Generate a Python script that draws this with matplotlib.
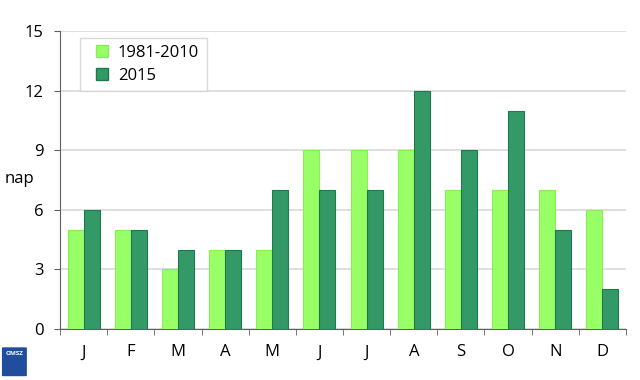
import numpy as np
import matplotlib.pyplot as plt
from matplotlib.lines import Line2D
from matplotlib.patches import FancyBboxPatch

plt.rcParams['font.family'] = ['Open Sans', 'DejaVu Sans']

months = ['J', 'F', 'M', 'A', 'M', 'J', 'J', 'A', 'S', 'O', 'N', 'D']
normal = [5, 5, 3, 4, 4, 9, 9, 9, 7, 7, 7, 6]      # 1981-2010
year2015 = [6, 5, 4, 4, 7, 7, 7, 12, 9, 11, 5, 2]

fig = plt.figure(figsize=(6.4, 3.8), dpi=100)
ax = fig.add_axes([0.094, 0.134, 0.884, 0.784])

x = np.arange(len(months))
w = 0.34
ax.bar(x - w/2, normal, w, color='#99ff66', edgecolor='#88ee55', linewidth=0.8, zorder=3)
ax.bar(x + w/2, year2015, w, color='#339966', edgecolor='#1e7a4a', linewidth=0.8, zorder=3)

ax.set_xlim(-0.5, len(months) - 0.5)
ax.set_ylim(0, 15)
ax.set_yticks(range(0, 16, 3))
ax.yaxis.grid(True, color='#d9d9d9', linewidth=1.2, zorder=0)
ax.set_xticks(x)
ax.set_xticklabels(months)
ax.set_xticks(np.arange(-0.5, len(months)), minor=True)
ax.tick_params(axis='x', which='major', length=0, pad=11, labelsize=12)
ax.tick_params(axis='x', which='minor', length=4, color='#606060', direction='out')
ax.tick_params(axis='y', length=4, color='#606060', labelsize=12, pad=8)

for s in ['top', 'right']:
    ax.spines[s].set_visible(False)
ax.spines['left'].set_color('#606060')
ax.spines['bottom'].set_color('#606060')

ax.set_ylabel('nap', rotation=0, fontsize=12, va='center', ha='center')
ax.yaxis.set_label_coords(-0.072, 0.503)

handles = [Line2D([], [], linestyle='none', marker='s', markersize=8,
                  markerfacecolor='#99ff66', markeredgecolor='#88ee55'),
           Line2D([], [], linestyle='none', marker='s', markersize=8,
                  markerfacecolor='#339966', markeredgecolor='#1e7a4a')]
leg = ax.legend(handles, ['1981-2010', '2015'], loc='upper left',
                bbox_to_anchor=(0.027, 0.995), fontsize=12,
                frameon=True, fancybox=False, edgecolor='#d0d0d0',
                handlelength=1.7, handletextpad=0.1,
                borderpad=0.45, labelspacing=0.4, borderaxespad=0.3)
leg.get_frame().set_linewidth(1.0)

# small OMSZ logo stand-in
fig.patches.append(FancyBboxPatch((0.005, 0.012), 0.035, 0.072, boxstyle='round,pad=0.002',
                                  transform=fig.transFigure, facecolor='#1f4e9c', edgecolor='none'))
fig.text(0.0225, 0.07, 'OMSZ', color='white', fontsize=4.5, ha='center', va='center', fontweight='bold')

plt.savefig('out.png')
